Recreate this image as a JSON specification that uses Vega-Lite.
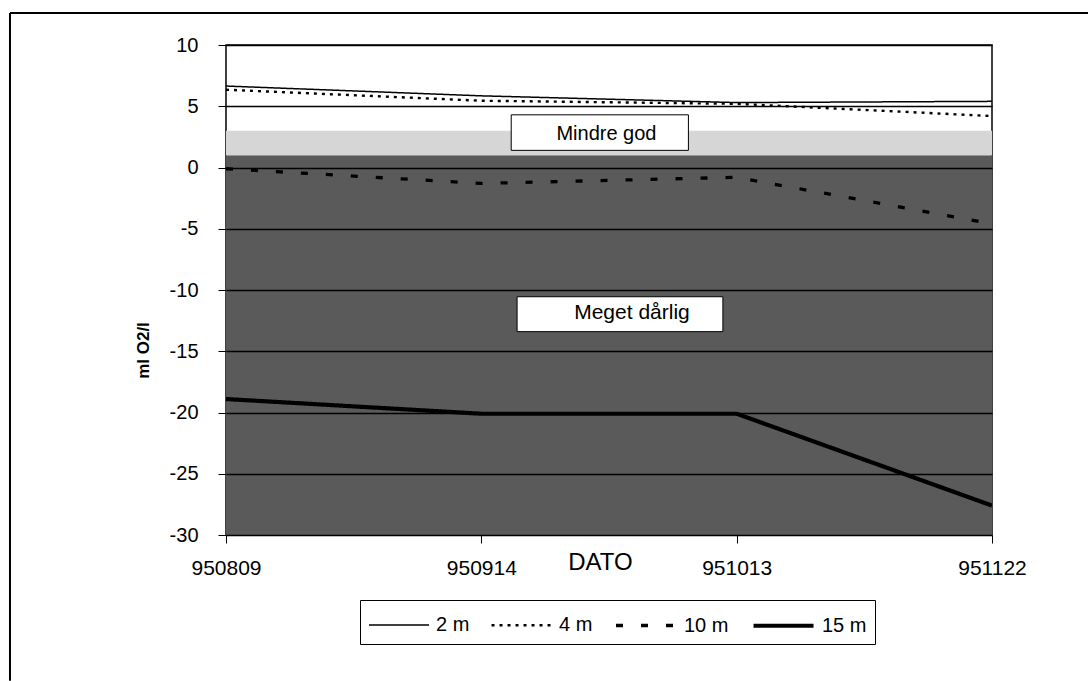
{
  "$schema": "https://vega.github.io/schema/vega-lite/v6.json",
  "width": 766,
  "height": 490,
  "autosize": "none",
  "padding": {"left": 226, "top": 45, "right": 96, "bottom": 146},
  "background": "white",
  "config": {
    "font": "Liberation Sans",
    "view": {"stroke": "black", "strokeWidth": 1.5},
    "axis": {"domain": false, "tickColor": "black", "labelColor": "black", "titleColor": "black", "labelFont": "Liberation Sans", "titleFont": "Liberation Sans"}
  },
  "datasets": {
    "series": [
      {"idx": 0, "dato": "950809", "serie": "2 m", "o2": 6.65},
      {"idx": 1, "dato": "950914", "serie": "2 m", "o2": 5.85},
      {"idx": 2, "dato": "951013", "serie": "2 m", "o2": 5.3},
      {"idx": 3, "dato": "951122", "serie": "2 m", "o2": 5.4},
      {"idx": 0, "dato": "950809", "serie": "4 m", "o2": 6.35},
      {"idx": 1, "dato": "950914", "serie": "4 m", "o2": 5.45},
      {"idx": 2, "dato": "951013", "serie": "4 m", "o2": 5.2},
      {"idx": 3, "dato": "951122", "serie": "4 m", "o2": 4.2},
      {"idx": 0, "dato": "950809", "serie": "10 m", "o2": -0.1},
      {"idx": 1, "dato": "950914", "serie": "10 m", "o2": -1.3},
      {"idx": 2, "dato": "951013", "serie": "10 m", "o2": -0.8},
      {"idx": 3, "dato": "951122", "serie": "10 m", "o2": -4.6},
      {"idx": 0, "dato": "950809", "serie": "15 m", "o2": -18.9},
      {"idx": 1, "dato": "950914", "serie": "15 m", "o2": -20.1},
      {"idx": 2, "dato": "951013", "serie": "15 m", "o2": -20.1},
      {"idx": 3, "dato": "951122", "serie": "15 m", "o2": -27.6}
    ],
    "bands": [
      {"klasse": "Meget dårlig", "fra": -30, "til": 1, "farve": "dark"},
      {"klasse": "Mindre god", "fra": 1, "til": 3, "farve": "light"}
    ],
    "labels": [
      {"tekst": "Mindre god", "x0": 1.117, "x1": 1.811, "y0": 1.4, "y1": 4.3, "tx": 1.49, "ty": 2.75, "fs": 20},
      {"tekst": "Meget dårlig", "x0": 1.14, "x1": 1.946, "y0": -13.4, "y1": -10.55, "tx": 1.59, "ty": -11.9, "fs": 21}
    ]
  },
  "layer": [
    {
      "data": {"name": "bands"},
      "mark": {"type": "rect"},
      "encoding": {
        "y": {"field": "fra", "type": "quantitative", "scale": {"domain": [-30, 10], "nice": false, "zero": false}},
        "y2": {"field": "til"},
        "fill": {"field": "farve", "type": "nominal", "scale": {"domain": ["dark", "light"], "range": ["#5a5a5a", "#d6d6d6"]}, "legend": null}
      }
    },
    {
      "data": {"name": "series"},
      "mark": {"type": "line", "color": "black", "strokeCap": "butt", "clip": true},
      "encoding": {
        "x": {
          "field": "idx", "type": "quantitative",
          "scale": {"domain": [0, 3], "nice": false, "zero": false},
          "axis": {
            "values": [0, 1, 2, 3],
            "labelExpr": "['950809','950914','951013','951122'][datum.value]",
            "labelFlush": false,
            "grid": false, "tickSize": 8, "labelPadding": 14, "labelFontSize": 21,
            "title": "DATO", "titleFontSize": 24, "titleFontWeight": "normal",
            "titleX": 374, "titleY": 27, "titleBaseline": "middle", "titleAlign": "center"
          }
        },
        "y": {
          "field": "o2", "type": "quantitative",
          "scale": {"domain": [-30, 10], "nice": false, "zero": false},
          "axis": {
            "values": [-30, -25, -20, -15, -10, -5, 0, 5, 10],
            "labelExpr": "replace(datum.label, '\u2212', '-')",
            "grid": true, "gridColor": "black", "gridWidth": 1.3, "gridOpacity": 1, "zindex": 1,
            "tickSize": 8, "labelPadding": 20, "labelFontSize": 20,
            "title": "ml O2/l", "titleFontSize": 17, "titleFontWeight": "bold",
            "titleAngle": -90, "titleX": -83, "titleY": 305, "titleAlign": "center", "titleBaseline": "middle"
          }
        },
        "detail": {"field": "serie"},
        "strokeDash": {
          "field": "serie", "type": "ordinal",
          "scale": {"domain": ["2 m", "4 m", "10 m", "15 m"], "range": [[1, 0], [3, 5], [7, 18], [1, 0]]},
          "legend": {
            "title": null, "orient": "none", "direction": "horizontal",
            "legendX": 134, "legendY": 555,
            "strokeColor": "black", "padding": 8,
            "symbolType": "M-1,0H3", "symbolSize": 900, "symbolStrokeColor": "black", "symbolFillColor": "transparent",
            "labelFontSize": 20, "labelColor": "black", "labelOffset": 36, "columnPadding": 16,
            "labelFont": "Liberation Sans"
          }
        },
        "strokeWidth": {
          "field": "serie", "type": "ordinal",
          "scale": {"domain": ["2 m", "4 m", "10 m", "15 m"], "range": [1.5, 4.2]}
        }
      }
    },
    {
      "data": {"name": "labels"},
      "mark": {"type": "rect", "fill": "white", "stroke": "black", "strokeWidth": 1},
      "encoding": {
        "x": {"field": "x0", "type": "quantitative"},
        "x2": {"field": "x1"},
        "y": {"field": "y0", "type": "quantitative"},
        "y2": {"field": "y1"}
      }
    },
    {
      "data": {"name": "labels"},
      "mark": {"type": "text", "color": "black", "font": "Liberation Sans", "align": "center", "baseline": "middle"},
      "encoding": {
        "x": {"field": "tx", "type": "quantitative"},
        "y": {"field": "ty", "type": "quantitative"},
        "text": {"field": "tekst"},
        "size": {"field": "fs", "type": "quantitative", "scale": null}
      }
    },
    {
      "data": {"values": [{"kant": "top"}]},
      "mark": {"type": "rule", "color": "black", "strokeWidth": 2},
      "encoding": {
        "x": {"datum": -0.846},
        "x2": {"datum": 3.4},
        "y": {"datum": 12.61}
      }
    },
    {
      "data": {"values": [{"kant": "venstre"}]},
      "mark": {"type": "rule", "color": "black", "strokeWidth": 2},
      "encoding": {
        "x": {"datum": -0.846},
        "y": {"datum": 12.61},
        "y2": {"datum": -41.9}
      }
    }
  ]
}
